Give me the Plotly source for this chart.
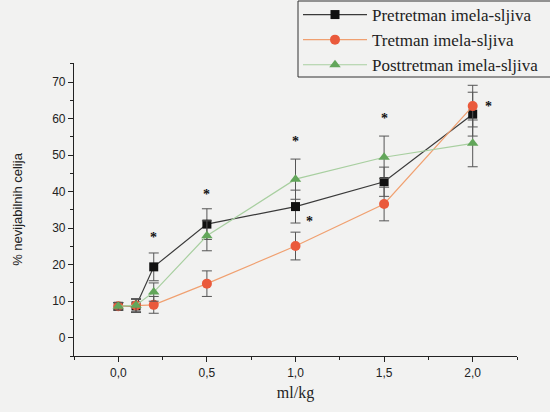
import plotly.graph_objects as go

# doses (ml/kg)
doze = [0.0, 0.1, 0.2, 0.5, 1.0, 1.5, 2.0]

pretretman = [8.6, 8.7, 19.4, 31.1, 35.9, 42.7, 61.2]
pretretman_err = [1.0, 1.8, 3.8, 4.2, 4.5, 4.0, 6.0]

tretman = [8.6, 8.8, 9.0, 14.8, 25.1, 36.6, 63.4]
tretman_err = [1.0, 1.8, 2.3, 3.5, 3.8, 4.6, 5.7]

posttretman = [8.6, 8.9, 12.5, 27.9, 43.4, 49.4, 53.2]
posttretman_err = [1.0, 1.8, 2.5, 4.1, 5.5, 5.8, 6.4]

# significance marks
zvezdice_x = [0.2, 0.5, 1.0, 1.08, 1.5, 2.09]
zvezdice_y = [27.4, 39.3, 53.6, 31.7, 60.0, 63.2]

COLORS = {
    "pre": "#111111", "pre_line": "#3a3a3a",
    "tre": "#ea5a3c", "tre_line": "#f0a070",
    "post": "#62a65a", "post_line": "#a8cfa0",
    "err": "#555555", "bg": "#f2f2f1", "text": "#222222",
}

# plot area in pixels (l, t, r, b)
L, T, R, B = 74, 63, 517, 356
PW, PH = R - L, B - T

fig = go.Figure()

serije = [
    ("Pretretman imela-sljiva", pretretman, pretretman_err, "square", COLORS["pre"], COLORS["pre_line"], 9),
    ("Tretman imela-sljiva", tretman, tretman_err, "circle", COLORS["tre"], COLORS["tre_line"], 10),
    ("Posttretman imela-sljiva", posttretman, posttretman_err, "triangle-up", COLORS["post"], COLORS["post_line"], 10),
]

for name, y, err, sym, mc, lc, sz in serije:
    fig.add_trace(go.Scatter(
        x=doze, y=y, name=name, mode="lines+markers",
        line=dict(color=lc, width=1.2),
        marker=dict(symbol=sym, size=sz, color=mc, line=dict(width=0)),
        error_y=dict(type="data", array=err, visible=True, color=COLORS["err"], thickness=1, width=5),
    ))

# asterisks as annotations in data coordinates
for zx, zy in zip(zvezdice_x, zvezdice_y):
    fig.add_annotation(x=zx, y=zy, text="<b>*</b>", showarrow=False,
                       font=dict(family="Liberation Serif", size=14, color="#111111"))

# legend frame (drawn separately so it can be tighter than plotly's padding)
fig.add_shape(type="rect", xref="paper", yref="paper",
              x0=(298 - L) / PW, x1=(560 - L) / PW, y0=(B - 77) / PH, y1=(B - 1) / PH,
              line=dict(color="#333333", width=1), fillcolor="rgba(0,0,0,0)")

fig.update_layout(
    width=550, height=412,
    paper_bgcolor=COLORS["bg"], plot_bgcolor=COLORS["bg"],
    margin=dict(l=L, r=550 - R, t=T, b=412 - B, autoexpand=False),
    separators=", ",
    font=dict(family="Liberation Sans", color=COLORS["text"], size=12),
    legend=dict(
        x=(298 - L) / PW, y=(B + 3) / PH, xanchor="left", yanchor="top",
        bgcolor="rgba(0,0,0,0)", borderwidth=0,
        itemwidth=64,
        font=dict(family="Liberation Serif", size=17, color="#222222"),
    ),
    showlegend=True,
)

fig.update_xaxes(
    range=[-0.25, 2.25], tickvals=[0, 0.5, 1.0, 1.5, 2.0], tickformat=".1f",
    showgrid=False, zeroline=False, showline=True, linecolor="#222222", linewidth=1.2,
    ticks="outside", ticklen=5, tickcolor="#222222",
    minor=dict(dtick=0.25, tick0=0, ticks="outside", ticklen=3, tickcolor="#222222", showgrid=False),
    title=dict(text="ml/kg", font=dict(family="Liberation Serif", size=16), standoff=8),
)
fig.update_yaxes(
    range=[-5, 75.2], tickvals=[0, 10, 20, 30, 40, 50, 60, 70],
    showgrid=False, zeroline=False, showline=True, linecolor="#222222", linewidth=1.2,
    ticks="outside", ticklen=5, tickcolor="#222222",
    minor=dict(dtick=5, tick0=0, ticks="outside", ticklen=3, tickcolor="#222222", showgrid=False),
    title=dict(text="% nevijabilnih celija", font=dict(family="Liberation Sans", size=13), standoff=26),
)

# page has a default 8px body margin; remove it so the figure fills the window
fig.write_html("out.html", config={"displayModeBar": False},
               post_script="document.body.style.margin='0';document.body.style.background='#f2f2f1';")
